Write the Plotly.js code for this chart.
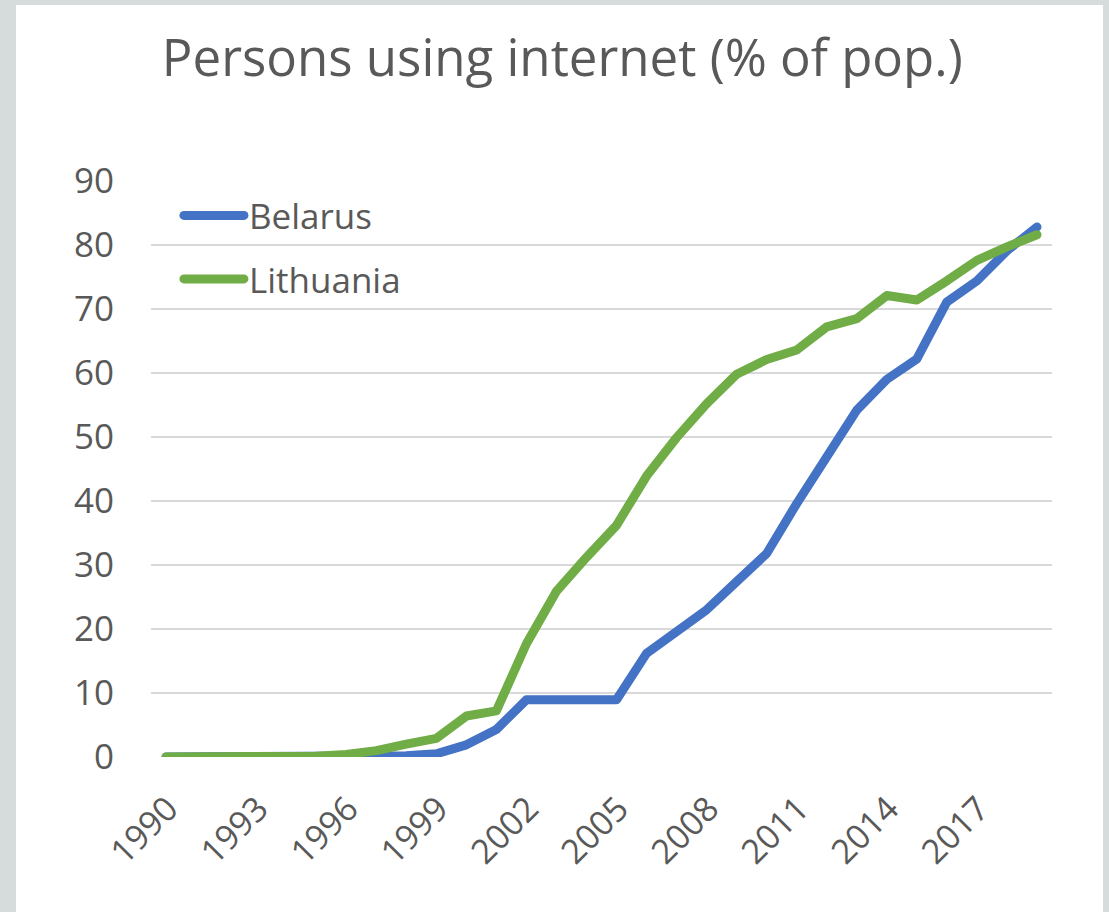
<!DOCTYPE html>
<html>
<head>
<meta charset="utf-8">
<script src="https://cdn.plot.ly/plotly-3.0.1.min.js"></script>
<style>
  html, body { margin:0; padding:0; width:1109px; height:912px; overflow:hidden; background:#d6dcdc; }
  #panel { position:absolute; left:16px; top:5px; width:1087px; height:907px; background:#ffffff; }
  #chart { position:absolute; left:0; top:0; width:1109px; height:912px; }
  #chart .scatterlayer .js-line, #chart .legend .js-line { stroke-linecap: round !important; stroke-linejoin: round !important; }
</style>
</head>
<body>
<div id="panel"></div>
<div id="chart"></div>
<script>
const years = [];
for (let y = 1990; y <= 2019; y++) years.push(y);

const belarus = [0, 0, 0, 0, 0, 0, 0, 0.1, 0.2, 0.5, 1.9, 4.3, 8.95, 8.95, 8.95, 8.95, 16.2, 19.7, 23.0, 27.4, 31.8, 39.6, 46.9, 54.2, 59.0, 62.2, 71.1, 74.4, 79.1, 82.8];
const lithuania = [0, 0, 0, 0, 0, 0.1, 0.4, 1.0, 2.0, 2.9, 6.4, 7.2, 17.7, 25.9, 31.2, 36.2, 43.9, 49.9, 55.2, 59.8, 62.1, 63.6, 67.2, 68.5, 72.1, 71.4, 74.4, 77.6, 79.7, 81.6];
const tickYears = [1990, 1993, 1996, 1999, 2002, 2005, 2008, 2011, 2014, 2017];
const yTicks = [0, 10, 20, 30, 40, 50, 60, 70, 80, 90];

const textColor = '#595959';
const font = 'Open Sans, sans-serif';

const traces = [
  { x: years, y: belarus, name: 'Belarus', type: 'scatter', mode: 'lines',
    line: { color: '#4472C4', width: 9, shape: 'linear' }, legendgroup: 'a' },
  { x: years, y: lithuania, name: 'Lithuania', type: 'scatter', mode: 'lines',
    line: { color: '#70AD47', width: 9, shape: 'linear' }, legendgroup: 'b' }
];

const layout = {
  width: 1109, height: 912,
  paper_bgcolor: 'rgba(0,0,0,0)', plot_bgcolor: 'rgba(0,0,0,0)',
  margin: { l: 151, r: 57, t: 181, b: 155 },
  title: { text: 'Persons using internet (% of pop.)', x: 0.507, xref: 'container', xanchor: 'center',
    y: 0.936, yref: 'container', yanchor: 'middle', font: { family: font, size: 51, color: textColor } },
  xaxis: { range: [1989.5, 2019.5], tickmode: 'array', tickvals: tickYears, ticktext: tickYears.map(String),
    tickangle: -45, showgrid: false, zeroline: false, showline: false, ticks: '',
    ticklabelshift: 2, ticklabelstandoff: 24,
    tickfont: { family: font, size: 34, color: textColor } },
  yaxis: { range: [0, 90], tickmode: 'array', tickvals: yTicks, ticktext: yTicks.map(String),
    showgrid: true, gridcolor: '#d9d9d9', gridwidth: 2, zeroline: false, showline: false, ticks: '',
    ticklabelstandoff: 36,
    tickfont: { family: font, size: 35, color: textColor } },
  legend: { x: 0.031, y: 0.991, xanchor: 'left', yanchor: 'top', bgcolor: 'rgba(0,0,0,0)',
    font: { family: font, size: 35, color: textColor }, itemwidth: 60, tracegroupgap: 15 },
  showlegend: true
};

Plotly.newPlot('chart', traces, layout, { displayModeBar: false, staticPlot: true });
</script>
</body>
</html>
